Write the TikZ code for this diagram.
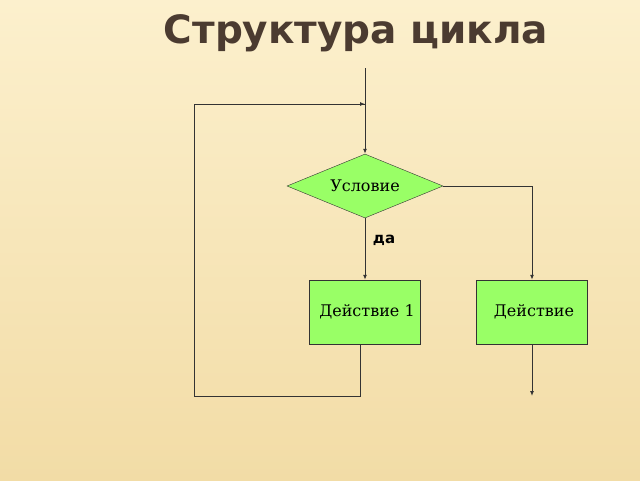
\documentclass[tikz,border=0pt]{standalone}
\usepackage{fontspec}
\setmainfont{DejaVu Serif}
\newfontfamily\titlefont{DejaVu Sans}
\usetikzlibrary{math,shapes.geometric,arrows.meta}

\definecolor{paper}{HTML}{FCF0CD}
\definecolor{paperlow}{HTML}{F2DCA6}
\definecolor{leaf}{HTML}{99FF66}
\definecolor{bark}{HTML}{4B3B30}

\tikzset{
  flow/.style={draw=black!80, line width=1pt},
  pointer/.style={flow, -{Latex[length=5pt,width=4pt]}},
  ifbox/.style={diamond, draw=black!80, fill=leaf, aspect=2.44,
    minimum width=156pt, minimum height=64pt, inner sep=0pt, font=\fontsize{16}{18}\selectfont},
  dobox/.style={rectangle, draw=black!80, fill=leaf, minimum width=111pt,
    minimum height=64pt, inner sep=0pt, font=\fontsize{16}{18}\selectfont}
}

\begin{document}
\begin{tikzpicture}[x=1pt, y=-1pt]
  \tikzmath{\c = 365; \r = 532; \t = 396; \l = 194;}

  % background
  \shade[top color=paper, bottom color=paperlow] (0, 0) rectangle (640, 480);
  \useasboundingbox (0, 0) rectangle (640, 480);

  % title
  \node[text=bark, font=\titlefont\bfseries\fontsize{39}{44}\selectfont] (title) at (356, 33) {Структура цикла};

  % condition and actions
  \node[ifbox] (cond) at (\c, 186) {Условие};
  \node[dobox] (act1) at (\c, 312) {\hspace{4pt}Действие 1};
  \node[dobox] (act2) at (\r, 312) {\hspace{4pt}Действие};

  \coordinate (entry) at (\c, 68);
  \coordinate (join) at (\c, 104);
  \coordinate (exit) at (\r, \t);
  \coordinate (back) at (360, 345);

  % entry
  \draw[pointer] (entry) -- (cond.north);

  % yes branch
  \draw[pointer] (cond.south) -- (act1.north);
  \node[font=\titlefont\bfseries\fontsize{15}{17}\selectfont] (yes) at (384, 240) {да};

  % no branch
  \draw[pointer] (cond.east) -| (act2.north);
  \draw[pointer] (act2.south) -- (exit);

  % loop back
  \draw[flow] (back) -- (back |- 0, \t) -- (\l, \t) -- (\l, 104) -- (join);
  \draw[pointer] (\l, 104) -- (join);

\end{tikzpicture}
\end{document}
